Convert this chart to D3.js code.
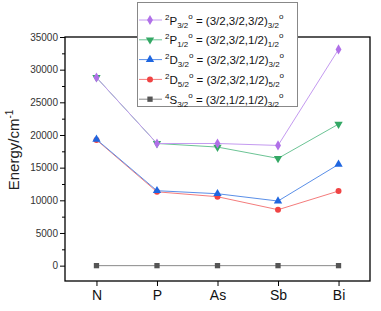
<!DOCTYPE html>
<html><head><meta charset="utf-8">
<script src="https://cdn.jsdelivr.net/npm/d3@7"></script>
<style>body{margin:0;background:#fff}svg{display:block;font-family:"Liberation Sans",Arial,sans-serif}</style>
</head><body><svg id="c" width="381" height="311"></svg>
<script>
const categories = ["N","P","As","Sb","Bi"];
const yTicks = [0,5000,10000,15000,20000,25000,30000,35000];
// series in legend order
const seriesNames = ["2P3/2o","2P1/2o","2D3/2o","2D5/2o","4S3/2o"];
const valsP32 = [28800,18700,18700,18400,33100];
const valsP12 = [28800,18700,18150,16420,21670];
const valsD32 = [19330,11470,11010,9890,15500];
const valsD52 = [19250,11300,10550,8560,11420];
const valsS32 = [0,0,0,0,0];
const legendTerm = ["2","2","2","2","4"];
const legendLetter = ["P","P","D","D","S"];
const legendJ = ["3/2","1/2","3/2","5/2","3/2"];
const legendTuple = ["(3/2,3/2,3/2)","(3/2,3/2,1/2)","(3/2,3/2,1/2)","(3/2,3/2,1/2)","(3/2,1/2,1/2)"];
const legendSub = ["3/2","1/2","3/2","5/2","3/2"];
const colors = ["#b070e8","#34a865","#1f66e0","#f04444","#555555"];
const lineColors = ["#c49af0","#6cc495","#5a8fe8","#f47c7c","#8a8a8a"];
const symbols = [d3.symbolDiamond, d3.symbolTriangle, d3.symbolTriangle, d3.symbolCircle, d3.symbolSquare];
const symRot = [0,180,0,0,0];
const symSize = [30,30,30,28,28];
const allVals = [valsP32,valsP12,valsD32,valsD52,valsS32];

const svg = d3.select("#c");
const L=65,R=370,T=37,B=281;
const x = d3.scalePoint().domain(categories).range([L,R]).padding(0.52);
const y = d3.scaleLinear().domain([-2350,35000]).range([B,T]);

// y axis
const yAx = svg.append("g").attr("transform",`translate(${L},0)`)
  .call(d3.axisLeft(y).tickValues(yTicks).tickSize(5).tickPadding(2).tickFormat(d3.format("d")));
yAx.select(".domain").remove();
yAx.selectAll("text").attr("font-size",10).attr("fill","#333").attr("font-family","Liberation Sans, Arial");
yAx.selectAll("line").attr("stroke","#000");
const minor = yTicks.slice(0,-1).map(d=>d+2500);
svg.append("g").attr("transform",`translate(${L},0)`)
  .call(d3.axisLeft(y).tickValues(minor).tickSize(3).tickFormat(""))
  .call(g=>g.select(".domain").remove()).selectAll("line").attr("stroke","#000");

// x axis
const xAx = svg.append("g").attr("transform",`translate(0,${B})`)
  .call(d3.axisBottom(x).tickSize(5).tickPadding(4));
xAx.select(".domain").remove();
xAx.selectAll("text").attr("font-size",14).attr("fill","#111").attr("font-family","Liberation Sans, Arial");
xAx.selectAll("line").attr("stroke","#000");

// frame
svg.append("rect").attr("x",L).attr("y",T).attr("width",R-L).attr("height",B-T)
  .attr("fill","none").attr("stroke","#000").attr("stroke-width",1.3);

// series (draw in reverse legend order)
for(let i=allVals.length-1;i>=0;i--){
  const data = categories.map((c,k)=>({c,v:allVals[i][k]}));
  svg.append("path").datum(data)
    .attr("d",d3.line().x(d=>x(d.c)).y(d=>y(d.v)))
    .attr("fill","none").attr("stroke",lineColors[i]).attr("stroke-width",1);
  svg.append("g").selectAll("path").data(data).join("path")
    .attr("d",d3.symbol(symbols[i],symSize[i]))
    .attr("transform",d=>`translate(${x(d.c)},${y(d.v)}) rotate(${symRot[i]})`)
    .attr("fill",colors[i]);
}

// y label
const yl = svg.append("text").attr("transform","translate(19,150) rotate(-90)")
  .attr("text-anchor","middle").attr("font-size",15).attr("fill","#222");
yl.append("tspan").text("Energy/cm");
yl.append("tspan").attr("font-size",10).attr("dy",-6).text("-1");

// legend
const lg = svg.append("g");
lg.append("rect").attr("x",137.5).attr("y",2.5).attr("width",160).attr("height",104)
  .attr("fill","#fff").attr("stroke","#888").attr("stroke-width",1);
seriesNames.forEach((n,i)=>{
  const cy = 20 + i*19.8;
  lg.append("line").attr("x1",139).attr("x2",162).attr("y1",cy).attr("y2",cy)
    .attr("stroke",lineColors[i]).attr("stroke-width",1);
  lg.append("path").attr("d",d3.symbol(symbols[i],symSize[i]))
    .attr("transform",`translate(150,${cy}) rotate(${symRot[i]})`).attr("fill",colors[i]);
  const t = lg.append("text").attr("x",165).attr("y",cy+4.5).attr("font-size",11.5).attr("fill","#111");
  t.append("tspan").attr("font-size",8).attr("dy",-5).text(legendTerm[i]);
  t.append("tspan").attr("dy",5).text(legendLetter[i]);
  t.append("tspan").attr("font-size",8).attr("dy",3).text(legendJ[i]);
  t.append("tspan").attr("font-size",8).attr("dy",-9).text("o");
  t.append("tspan").attr("dy",6).text(" = " + legendTuple[i]);
  t.append("tspan").attr("font-size",8).attr("dy",3).text(legendSub[i]);
  t.append("tspan").attr("font-size",8).attr("dy",-9).text("o");
});
</script></body></html>
